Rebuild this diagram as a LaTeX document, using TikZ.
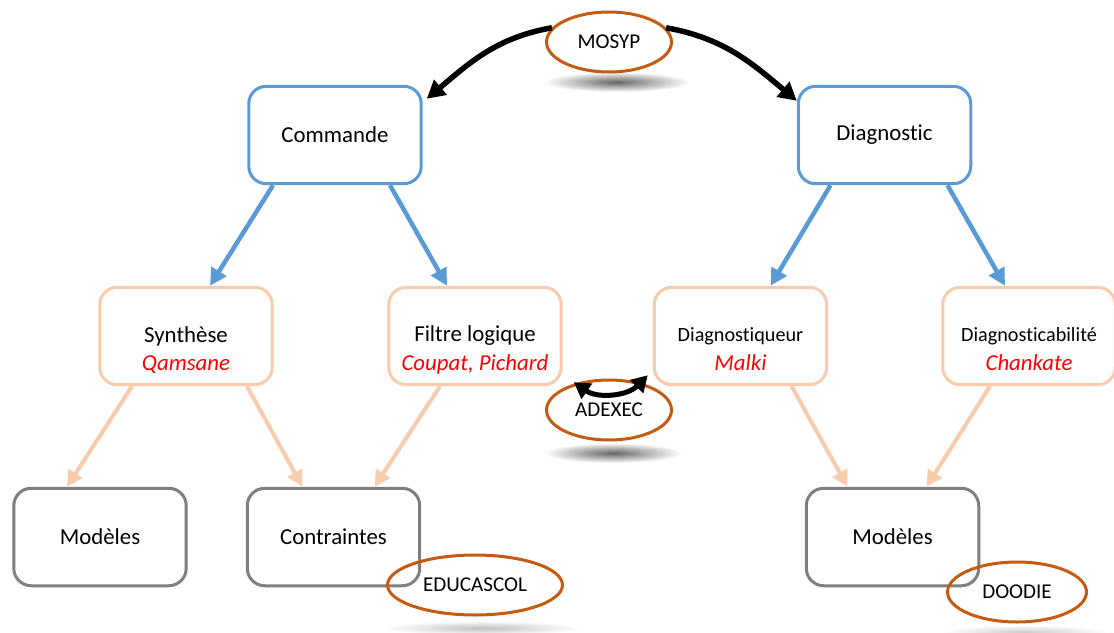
\documentclass[tikz,border=0pt]{standalone}
\usepackage{fontspec}
\setmainfont{Carlito}[Ligatures=NoCommon]
\usetikzlibrary{arrows.meta,shapes,calc,fadings}
\definecolor{bleu}{HTML}{5B9BD5}
\definecolor{peche}{HTML}{F8CBAD}
\definecolor{gris}{HTML}{7F7F7F}
\definecolor{brique}{HTML}{C55A11}
\definecolor{rouge}{HTML}{FF0000}
\tikzfading[name=flou, inner color=transparent!0, outer color=transparent!100]
\tikzstyle{boite} = [draw, line width=0.06cm, rounded corners=0.35cm, minimum width=3.45cm, minimum height=1.95cm, inner sep=0cm, fill=white, font=\fontsize{13}{16}\selectfont]
\tikzstyle{bleubox} = [boite, draw=bleu]
\tikzstyle{pechebox} = [boite, draw=peche]
\tikzstyle{grisbox} = [boite, draw=gris]
\tikzstyle{projet} = [draw=brique, line width=0.06cm, ellipse, minimum width=2.5cm, minimum height=1.2cm, inner sep=0cm, font=\fontsize{12}{14}\selectfont]
\tikzstyle{auteur} = [text=rouge, anchor=base, inner sep=0cm, font=\fontsize{13}{16}\selectfont\itshape]
\tikzstyle{bleulink} = [draw=bleu, line width=0.09cm, -{Triangle[length=0.34cm,width=0.34cm]}]
\tikzstyle{pechelink} = [draw=peche, line width=0.08cm, -{Triangle[length=0.32cm,width=0.32cm]}]
\tikzstyle{noirlink} = [draw=black, line width=0.11cm, -{Triangle[length=0.36cm,width=0.38cm]}]
\tikzstyle{ombre} = [path fading=flou]
\newcommand{\ombre}[4]{
\fill[ombre, fill=black!#4] (#1) ellipse [x radius=#2, y radius=#3];
}
\newcommand{\etude}[4]{
\node[pechebox] (#1) at (#2) {#3};
\node[auteur] (#1-aut) at ($(#1)+(0,34)$) {#4};
}

\begin{document}
\begin{tikzpicture}[x=0.02cm, y=-0.02cm]
\useasboundingbox (0,0) rectangle (1114,632);
\ombre{617,82}{1.45cm}{0.2cm}{60}
\ombre{613,453}{1.38cm}{0.2cm}{60}
\ombre{483,628}{1.95cm}{0.14cm}{25}
\ombre{1025,632}{1.65cm}{0.14cm}{20}

\node[bleubox] (cmd) at (335,135) {Commande};
\node[bleubox] (dia) at (884.5,135) {Diagnostic};
\etude{syn}{186,336}{Synthèse}{Qamsane}
\etude{flt}{475,336}{Filtre logique}{Coupat, Pichard}
\etude{dgq}{740.5,336}{\fontsize{11.5}{14}\selectfont Diagnostiqueur}{Malki}
\etude{dgb}{1029,336}{\fontsize{11.5}{14}\selectfont Diagnosticabilité}{Chankate}
\node[grisbox] (modL) at (100,537) {Modèles};
\node[grisbox] (ctr) at (333.5,537) {Contraintes};
\node[grisbox] (modR) at (892.5,537) {Modèles};

\node[projet] (mosyp) at (609,42) {MOSYP};
\node[projet] (adexec) at (609,410) {ADEXEC};
\node[projet, minimum width=3.5cm] (educ) at (475,585) {EDUCASCOL};
\node[projet, minimum width=2.78cm] (doodie) at (1017,592) {DOODIE};

\draw[noirlink] (mosyp.166) to[out=190, in=40] ($(cmd.north east)+(4,14)$);
\draw[noirlink] (mosyp.14) to[out=-10, in=140] ($(dia.north west)+(0,16)$);
\draw[noirlink, {Triangle[length=0.32cm,width=0.36cm]}-{Triangle[length=0.32cm,width=0.36cm]}, line width=0.1cm] ($(flt.south east)+(11,-4)$) to[bend right=40] ($(dgq.south west)+(-5,-11)$);

\draw[bleulink] ($(cmd.south)+(-62,0)$) -- ($(syn.north)+(24,0)$);
\draw[bleulink] ($(cmd.south)+(55,0)$) -- ($(flt.north)+(-28,0)$);
\draw[bleulink] ($(dia.south)+(-54,0)$) -- ($(dgq.north)+(30,0)$);
\draw[bleulink] ($(dia.south)+(63,0)$) -- ($(dgb.north)+(-24,0)$);

\draw[pechelink] ($(syn.south)+(-54,0)$) -- ($(modL.north)+(-33,0)$);
\draw[pechelink] ($(syn.south)+(61,0)$) -- ($(ctr.north)+(-31,0)$);
\draw[pechelink] ($(flt.south)+(-35,0)$) -- ($(ctr.north)+(41,0)$);
\draw[pechelink] ($(dgq.south)+(51,0)$) -- ($(modR.north)+(-45,0)$);
\draw[pechelink] ($(dgb.south)+(-39,0)$) -- ($(modR.north)+(34,0)$);
\end{tikzpicture}
\end{document}
